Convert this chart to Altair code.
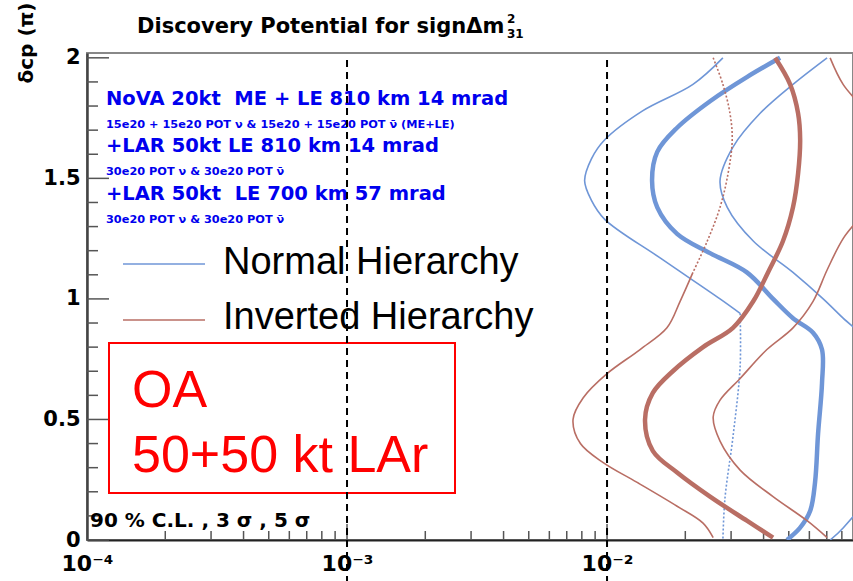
import altair as alt
import pandas as pd

# ---------------- data ----------------
# Normal hierarchy (blue)
nh_thin_left_delta = [2.0, 1.89, 1.78, 1.66, 1.58, 1.49, 1.41, 1.33, 1.17, 1.0, 0.94]
nh_thin_left_x = [0.0279, 0.0214, 0.0137, 0.0098, 0.0087, 0.0082, 0.0087, 0.0098, 0.0160, 0.0272, 0.0325]
nh_thin_low_delta = [0.94, 0.72, 0.44, 0.17, 0.0]
nh_thin_low_x = [0.0325, 0.0325, 0.0306, 0.0284, 0.0279]
nh_thick_delta = [2.0, 1.92, 1.82, 1.71, 1.61, 1.49, 1.38, 1.27, 1.19, 1.11, 1.0, 0.92, 0.86, 0.79,
                  0.65, 0.44, 0.24, 0.12, 0.05, 0.0]
nh_thick_x = [0.0463, 0.0345, 0.0249, 0.0186, 0.0156, 0.0149, 0.0156, 0.0186, 0.0249, 0.0345, 0.0435,
              0.0519, 0.0620, 0.0671, 0.0671, 0.0648, 0.0631, 0.0604, 0.0552, 0.0492]
nh_thin_right_delta = [2.0, 1.89, 1.77, 1.63, 1.49, 1.38, 1.24, 1.11, 1.0, 0.92, 0.75, 0.5, 0.25, 0.05, 0.0]
nh_thin_right_x = [0.0702, 0.0519, 0.0388, 0.0305, 0.0272, 0.0290, 0.0365, 0.0519, 0.0678, 0.0809,
                   0.118, 0.134, 0.112, 0.0809, 0.0721]

# Inverted hierarchy (red)
ih_thin_up_delta = [2.0, 1.89, 1.77, 1.66, 1.52, 1.38, 1.24, 1.11]
ih_thin_up_x = [0.0256, 0.0279, 0.0297, 0.0303, 0.0292, 0.0272, 0.0243, 0.0214]
ih_thin_left_delta = [1.11, 0.99, 0.88, 0.79, 0.69, 0.59, 0.5, 0.40, 0.32, 0.24, 0.14, 0.07, 0.01]
ih_thin_left_x = [0.0214, 0.0191, 0.0170, 0.0134, 0.0100, 0.0081, 0.0074, 0.0079, 0.0097, 0.0130,
                  0.0186, 0.0234, 0.0256]
ih_thick_delta = [2.0, 1.89, 1.77, 1.66, 1.52, 1.38, 1.24, 1.11, 0.99, 0.88, 0.80, 0.70, 0.61, 0.5,
                  0.37, 0.28, 0.18, 0.08, 0.01]
ih_thick_x = [0.0443, 0.0506, 0.0543, 0.0553, 0.0543, 0.0519, 0.0475, 0.0416, 0.0365, 0.0305, 0.0234,
              0.0179, 0.0150, 0.0140, 0.0150, 0.0186, 0.0249, 0.0345, 0.0435]
ih_thin_right_delta = [2.0, 1.89, 1.75, 1.6, 1.4, 1.25, 1.12, 0.99, 0.88, 0.79, 0.67, 0.58, 0.51, 0.41,
                       0.29, 0.18, 0.08, 0.01]
ih_thin_right_x = [0.0721, 0.0809, 0.103, 0.117, 0.103, 0.0809, 0.0702, 0.0620, 0.0519, 0.0412, 0.0325,
                   0.0272, 0.0256, 0.0272, 0.0325, 0.0435, 0.0588, 0.0702]

# reference lines and axes
ref_lines_x = [1e-3, 1e-2]
x_tick_values = [1e-4, 1e-3, 1e-2]
x_tick_labels = ["10⁻⁴", "10⁻³", "10⁻²"]
x_major_ticks = [1e-3, 1e-2]
x_minor_ticks = [2e-4, 3e-4, 4e-4, 5e-4, 6e-4, 7e-4, 8e-4, 9e-4,
                 2e-3, 3e-3, 4e-3, 5e-3, 6e-3, 7e-3, 8e-3, 9e-3,
                 2e-2, 3e-2, 4e-2, 5e-2, 6e-2, 7e-2, 8e-2]
y_tick_values = [0, 0.5, 1, 1.5, 2]
y_tick_labels = ["0", "0.5", "1", "1.5", "2"]
y_minor_ticks = [0.1, 0.2, 0.3, 0.4, 0.6, 0.7, 0.8, 0.9, 1.1, 1.2, 1.3, 1.4, 1.6, 1.7, 1.8, 1.9]

NB = "\u00a0"
title_text = "Discovery Potential for signΔm"
y_title = "δcp (π)"
info_lines = ["NoVA 20kt " + NB + "ME + LE 810 km 14 mrad",
              "15e20 + 15e20 POT ν & 15e20 + 15e20 POT ν̄ (ME+LE)",
              "+LAR 50kt LE 810 km 14 mrad",
              "30e20 POT ν & 30e20 POT ν̄",
              "+LAR 50kt " + NB + "LE 700 km 57 mrad",
              "30e20 POT ν & 30e20 POT ν̄"]
legend_labels = ["Normal Hierarchy", "Inverted Hierarchy"]
box_lines = ["OA", "50+50 kt LAr"]
cl_text = "90 % C.L. , 3 σ , 5 σ"

# ---------------- styling / layout ----------------
W, H = 766, 487
BLUE = "#6f96d7"
RED = "#b96e64"
TXT_BLUE = "#0000ee"

xs = alt.Scale(type="log", domain=[1e-4, 0.0883])
ys = alt.Scale(domain=[0, 2.02])

x_label_expr = "[" + ",".join("'%s'" % s for s in x_tick_labels) + "][round(log(datum.value)/LN10)+4]"
y_label_expr = "[" + ",".join("'%s'" % s for s in y_tick_labels) + "][round(datum.value*2)]"

x_axis = alt.Axis(values=x_tick_values, labelExpr=x_label_expr, ticks=False, grid=False,
                  domainColor="#222", domainWidth=2, labelFont="DejaVu Sans", labelFontWeight="bold",
                  labelFontSize=22, labelColor="black", labelPadding=13, labelFlush=False,
                  labelBaseline="top", title=None)
y_axis = alt.Axis(values=y_tick_values, labelExpr=y_label_expr, ticks=False, grid=False,
                  domainColor="#444", domainWidth=2.5, labelFont="DejaVu Sans", labelFontWeight="bold",
                  labelFontSize=21, labelColor="black", labelPadding=7, labelFlush=False, title=None)


def curve(delta, x, color, width, dash=None):
    df = pd.DataFrame({"delta": delta, "x": x, "i": list(range(len(delta)))})
    kw = dict(color=color, strokeWidth=width, clip=True, interpolate="catmull-rom")
    if dash:
        kw["strokeDash"] = dash
    return alt.Chart(df).mark_line(**kw).encode(
        x=alt.X("x:Q", scale=xs, axis=x_axis),
        y=alt.Y("delta:Q", scale=ys, axis=y_axis),
        order="i:Q",
    )


def text(txt, x, y, size, color="black", font="DejaVu Sans", weight="bold",
         align="left", baseline="middle", angle=0):
    return alt.Chart(pd.DataFrame({"t": [txt]})).mark_text(
        align=align, baseline=baseline, font=font, fontSize=size, fontWeight=weight,
        color=color, angle=angle,
    ).encode(x=alt.value(x), y=alt.value(y), text="t:N")


def xticks(vals, length):
    return alt.Chart(pd.DataFrame({"v": vals})).mark_rule(color="#555", strokeWidth=1.5).encode(
        x=alt.X("v:Q", scale=xs, axis=x_axis), y=alt.value(H), y2=alt.value(H - length))


def yticks(vals, length):
    return alt.Chart(pd.DataFrame({"v": vals})).mark_rule(color="#555", strokeWidth=1.5).encode(
        y=alt.Y("v:Q", scale=ys, axis=y_axis), x=alt.value(0), x2=alt.value(length))


layers = [
    xticks(x_minor_ticks, 9), xticks(x_major_ticks, 16),
    yticks(y_minor_ticks, 11), yticks(y_tick_values, 22),
    curve(nh_thin_left_delta, nh_thin_left_x, BLUE, 1.6),
    curve(nh_thin_low_delta, nh_thin_low_x, BLUE, 1.6, [2, 2]),
    curve(nh_thick_delta, nh_thick_x, BLUE, 4.5),
    curve(nh_thin_right_delta, nh_thin_right_x, BLUE, 1.6),
    curve(ih_thin_up_delta, ih_thin_up_x, RED, 1.6, [2, 2]),
    curve(ih_thin_left_delta, ih_thin_left_x, RED, 1.6),
    curve(ih_thick_delta, ih_thick_x, RED, 4.5),
    curve(ih_thin_right_delta, ih_thin_right_x, RED, 1.6),
    # titles
    text(title_text, 50, -26, 21),
    text("2", 420, -34, 12),
    text("31", 420, -19, 12),
    text(y_title, -60, -10, 20, align="center", angle=270),
    # blue info block
    text(info_lines[0], 19, 46, 19.5, TXT_BLUE),
    text(info_lines[1], 19, 72, 11.3, TXT_BLUE),
    text(info_lines[2], 19, 93, 19.5, TXT_BLUE),
    text(info_lines[3], 19, 119, 11.3, TXT_BLUE),
    text(info_lines[4], 19, 141, 19.5, TXT_BLUE),
    text(info_lines[5], 19, 167, 11.3, TXT_BLUE),
    # legend
    alt.Chart(pd.DataFrame({"a": [0]})).mark_rule(color=BLUE, strokeWidth=1.5).encode(
        x=alt.value(36), x2=alt.value(118), y=alt.value(211)),
    alt.Chart(pd.DataFrame({"a": [0]})).mark_rule(color=RED, strokeWidth=1.5).encode(
        x=alt.value(36), x2=alt.value(118), y=alt.value(267)),
    text(legend_labels[0], 136, 210, 38, "#000", font="Liberation Sans", weight="normal"),
    text(legend_labels[1], 136, 265, 38, "#000", font="Liberation Sans", weight="normal"),
    # red box
    alt.Chart(pd.DataFrame({"a": [0]})).mark_rect(fillOpacity=0, stroke="#ff0000", strokeWidth=2).encode(
        x=alt.value(22), x2=alt.value(368), y=alt.value(290), y2=alt.value(440)),
    text(box_lines[0], 45, 354, 52, "#ff0000", font="Liberation Sans", weight="normal", baseline="alphabetic"),
    text(box_lines[1], 45, 419, 52, "#ff0000", font="Liberation Sans", weight="normal", baseline="alphabetic"),
    text(cl_text, 3, 468, 20),
    # dashed reference lines
    alt.Chart(pd.DataFrame({"v": ref_lines_x})).mark_rule(
        color="black", strokeWidth=2, strokeDash=[7, 5], clip=False).encode(
        x=alt.X("v:Q", scale=xs, axis=x_axis), y=alt.value(7), y2=alt.value(H + 41)),
]

chart = alt.layer(*layers).properties(
    width=W, height=H,
    padding={"left": 87, "top": 53, "right": 0, "bottom": 41},
    autosize=alt.AutoSizeParams(type="none"),
    background="white",
).configure_view(stroke="#888", strokeWidth=2)

chart.save("out.html", embed_options={"renderer": "svg", "actions": False})
